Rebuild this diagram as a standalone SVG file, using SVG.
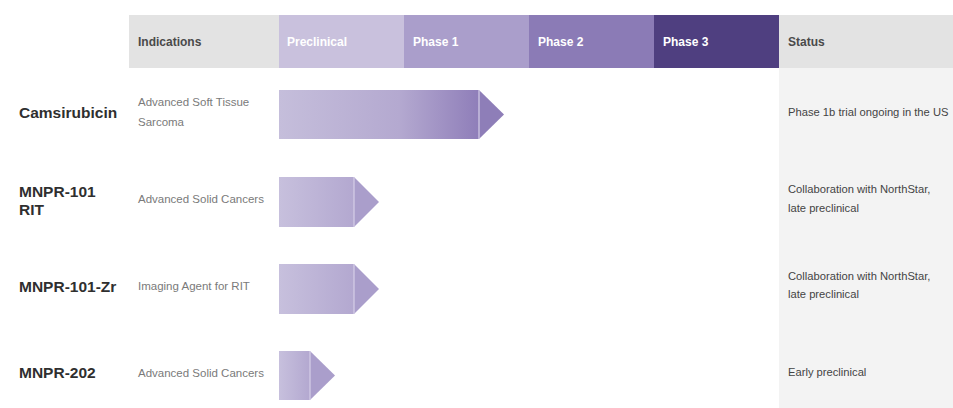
<svg xmlns="http://www.w3.org/2000/svg" width="953" height="408" viewBox="0 0 953 408">
<defs>
<linearGradient id="gLong" x1="0" y1="0" x2="1" y2="0">
<stop offset="0" stop-color="#c5bedb"/>
<stop offset="0.6" stop-color="#b4a9d0"/>
<stop offset="1" stop-color="#8f7eb9"/>
</linearGradient>
<linearGradient id="gShort" x1="0" y1="0" x2="1" y2="0">
<stop offset="0" stop-color="#c7c0dd"/>
<stop offset="1" stop-color="#b3a8d0"/>
</linearGradient>
<style>
.hdr{font-family:"Liberation Sans",Arial,sans-serif;font-size:12px;font-weight:bold}
.hw{fill:#ffffff}
.hd{fill:#4a4a4a}
.name{font-family:"Liberation Sans",Arial,sans-serif;font-size:15.5px;font-weight:bold;fill:#2f2f2f}
.ind{font-family:"Liberation Sans",Arial,sans-serif;font-size:11.5px;fill:#7a7a7a}
.st{font-family:"Liberation Sans",Arial,sans-serif;font-size:11.2px;fill:#444444}
.div{stroke:#d6cfe8;stroke-width:1.2}
</style>
</defs>
<rect width="953" height="408" fill="#ffffff"/>
<rect x="779" y="68" width="174" height="340" fill="#f3f3f3"/>
<g id="header">
<rect x="129" y="15" width="150" height="53" fill="#e3e3e3"/>
<rect x="279" y="15" width="125" height="53" fill="#c9c1dd"/>
<rect x="404" y="15" width="125" height="53" fill="#aa9ecb"/>
<rect x="529" y="15" width="125" height="53" fill="#8b7bb6"/>
<rect x="654" y="15" width="125" height="53" fill="#4f3f80"/>
<rect x="779" y="15" width="174" height="53" fill="#e3e3e3"/>
<text class="hdr hd" x="138" y="46">Indications</text>
<text class="hdr hw" x="287" y="46">Preclinical</text>
<text class="hdr hw" x="413" y="46">Phase 1</text>
<text class="hdr hw" x="538" y="46">Phase 2</text>
<text class="hdr hw" x="663" y="46">Phase 3</text>
<text class="hdr hd" x="788" y="46">Status</text>
</g>
<g id="row-camsirubicin">
<text class="name" x="19" y="118">Camsirubicin</text>
<text class="ind" x="138" y="106">Advanced Soft Tissue</text>
<text class="ind" x="138" y="126">Sarcoma</text>
<rect x="279" y="90" width="200" height="49" fill="url(#gLong)"/>
<polygon points="479,90 504,114.5 479,139" fill="#8e7eb8"/>
<line class="div" x1="479" y1="90" x2="479" y2="139"/>
<text class="st" x="788" y="116">Phase 1b trial ongoing in the US</text>
</g>
<g id="row-mnpr101rit">
<text class="name" x="19" y="197">MNPR-101</text>
<text class="name" x="19" y="215">RIT</text>
<text class="ind" x="138" y="203">Advanced Solid Cancers</text>
<rect x="279" y="177" width="75" height="50" fill="url(#gShort)"/>
<polygon points="354,177 379,202 354,227" fill="#aa9ecb"/>
<line class="div" x1="354" y1="177" x2="354" y2="227"/>
<text class="st" x="788" y="193">Collaboration with NorthStar,</text>
<text class="st" x="788" y="212">late preclinical</text>
</g>
<g id="row-mnpr101zr">
<text class="name" x="19" y="292">MNPR-101-Zr</text>
<text class="ind" x="138" y="290">Imaging Agent for RIT</text>
<rect x="279" y="264" width="75" height="50" fill="url(#gShort)"/>
<polygon points="354,264 379,289 354,314" fill="#aa9ecb"/>
<line class="div" x1="354" y1="264" x2="354" y2="314"/>
<text class="st" x="788" y="280">Collaboration with NorthStar,</text>
<text class="st" x="788" y="298">late preclinical</text>
</g>
<g id="row-mnpr202">
<text class="name" x="19" y="378">MNPR-202</text>
<text class="ind" x="138" y="377">Advanced Solid Cancers</text>
<rect x="279" y="351" width="31" height="49" fill="url(#gShort)"/>
<polygon points="310,351 335,375.5 310,400" fill="#aa9ecb"/>
<line class="div" x1="310" y1="351" x2="310" y2="400"/>
<text class="st" x="788" y="376">Early preclinical</text>
</g>
<g id="connectors"></g>
</svg>
